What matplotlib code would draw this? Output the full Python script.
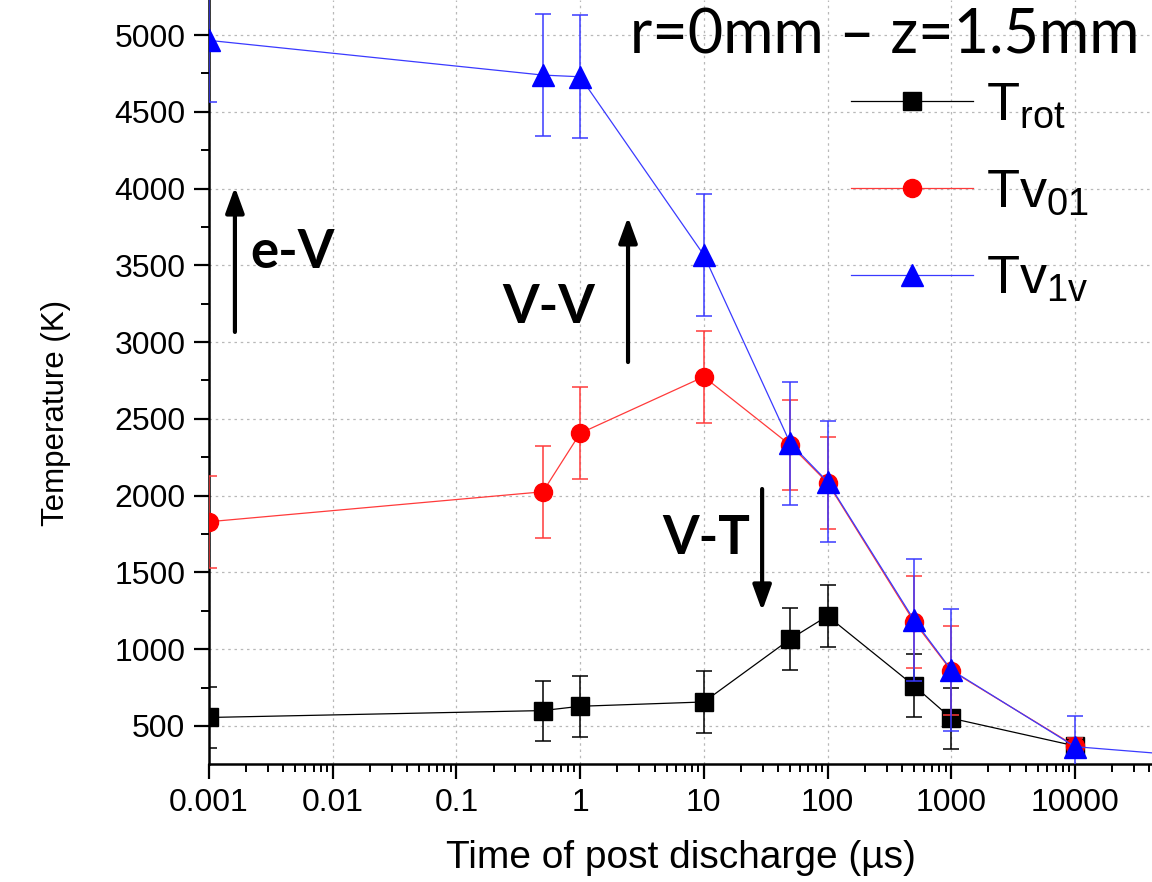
import matplotlib.pyplot as plt
from matplotlib.ticker import LogLocator, MultipleLocator, FixedFormatter, FixedLocator

# post discharge time (µs)
time_us = [0.001, 0.5, 1, 10, 50, 100, 500, 1000, 10000]
time_us_1v = [0.001, 0.5, 1, 10, 50, 100, 500, 1000, 10000, 100000]

# temperatures (K) and their error bars
t_rot = [555, 600, 628, 656, 1066, 1216, 762, 550, 370]
t_rot_err = [200, 195, 200, 200, 200, 200, 205, 200, 50]
tv_01 = [1830, 2025, 2406, 2774, 2329, 2084, 1179, 860, 370]
tv_01_err = [300, 300, 300, 300, 295, 300, 300, 290, 50]
tv_1v = [4965, 4739, 4728, 3567, 2341, 2091, 1190, 865, 365, 300]
tv_1v_err = [400, 400, 400, 395, 400, 395, 395, 395, 200, 0]

x_ticks = [0.001, 0.01, 0.1, 1, 10, 100, 1000, 10000]
x_tick_labels = ["0.001", "0.01", "0.1", "1", "10", "100", "1000", "10000"]

plt.rcParams["font.family"] = "Liberation Sans"
plt.rcParams["mathtext.default"] = "regular"

fig = plt.figure(figsize=(11.52, 8.82), dpi=100)
# the original image is cropped: plot area runs off the top and right edges
ax = fig.add_axes([209 / 1152, 118 / 882, 943 / 1152, 764 / 882])
ax.set_xscale("log")
ax.set_xlim(1e-3, 10 ** 4.623)
ax.set_ylim(252, 5228)

series = [
    (time_us, t_rot, t_rot_err, "black", "black", "s", 12.5, r"T$_{rot}$"),
    (time_us, tv_01, tv_01_err, "#ff0000", "#ff3a3a", "o", 13, r"Tv$_{01}$"),
    (time_us_1v, tv_1v, tv_1v_err, "#0000ff", "#3a3aff", "^", 15.5, r"Tv$_{1v}$"),
]
handles = []
for i, (xs, ys, err, mcol, lcol, mk, ms, lab) in enumerate(series):
    ax.errorbar(xs, ys, yerr=err, fmt="none", ecolor=lcol, elinewidth=1.1,
                capsize=5.5, capthick=1.1, zorder=3 + 2 * i)
    (h,) = ax.plot(xs, ys, color=lcol, lw=0.9, marker=mk, markersize=ms,
                   markerfacecolor=mcol, markeredgecolor=mcol, label=lab,
                   zorder=4 + 2 * i)
    handles.append(h)

ax.xaxis.set_major_locator(FixedLocator(x_ticks))
ax.xaxis.set_major_formatter(FixedFormatter(x_tick_labels))
ax.xaxis.set_minor_locator(LogLocator(base=10, subs=range(2, 10), numticks=20))
ax.yaxis.set_major_locator(MultipleLocator(500))
ax.yaxis.set_minor_locator(MultipleLocator(250))

ax.tick_params(which="major", direction="out", length=11, width=1.6,
               labelsize=23, pad=6)
ax.tick_params(which="minor", direction="out", length=6, width=1.4)
for side in ("left", "bottom"):
    ax.spines[side].set_linewidth(1.8)
for side in ("top", "right"):
    ax.spines[side].set_visible(False)

ax.grid(True, which="major", color="#b8b8b8", lw=0.9, linestyle=(0, (2, 3)))
ax.set_axisbelow(True)

ax.set_xlabel("Time of post discharge (µs)", fontsize=28, labelpad=16)
ax.set_ylabel("Temperature (K)", fontsize=22.5)
ax.yaxis.set_label_coords(-0.146, 0.46)

leg = ax.legend(handles=handles, loc="upper left", frameon=False,
                bbox_to_anchor=(851 / 1152, 1 - 81 / 882),
                bbox_transform=fig.transFigure, fontsize=39,
                handlelength=2.25, handletextpad=0.25, labelspacing=0.68,
                borderpad=0, borderaxespad=0)

fig.text(1140 / 1152, 1 - 53 / 882, "r=0mm – z=1.5mm", family="Lato",
         fontsize=44, ha="right", va="baseline")

# process arrows
arrow_kw = dict(arrowstyle="-|>,head_length=0.55,head_width=0.2",
                mutation_scale=28, lw=3, color="black",
                shrinkA=0, shrinkB=0)
ax.annotate("", xy=(0.00162, 4010), xytext=(0.00162, 3066), arrowprops=arrow_kw)
ax.annotate("", xy=(2.44, 3815), xytext=(2.44, 2870), arrowprops=arrow_kw)
ax.annotate("", xy=(29.6, 1249), xytext=(29.6, 2043), arrowprops=arrow_kw)

lbl_kw = dict(family="Lato", fontweight="bold", fontsize=38, va="baseline")
fig.text(250 / 1152, 1 - 268 / 882, "e-V", **lbl_kw)
fig.text(502 / 1152, 1 - 323 / 882, "V-V", **lbl_kw)
fig.text(662 / 1152, 1 - 554 / 882, "V-T", **lbl_kw)

fig.savefig("out.png", dpi=100)
